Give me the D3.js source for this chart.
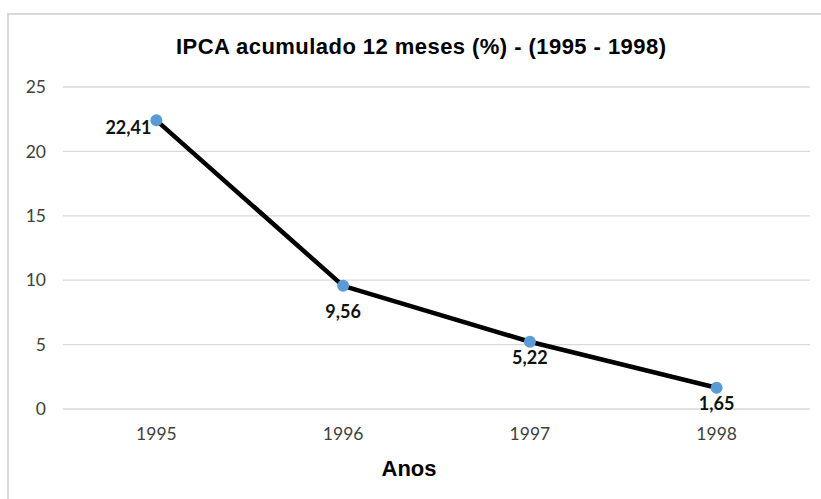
<!DOCTYPE html>
<html>
<head>
<meta charset="utf-8">
<script src="https://cdn.jsdelivr.net/npm/d3@7"></script>
<style>
    body { margin: 0; background: #fff; }
    svg { display: block; }
    .grid line { stroke: #d9d9d9; stroke-width: 1.3; }
    .axis text { font-family: Lato, "Open Sans", sans-serif; font-size: 17.5px; fill: #404040; }
    .title { font-family: "Liberation Sans", Arial, sans-serif; font-weight: bold; font-size: 22px; fill: #000; }
    .x.title { font-size: 22px; }
    .label { font-family: Lato, "Open Sans", sans-serif; font-weight: bold; font-size: 18px; fill: #111; }
</style>
</head>
<body>
<svg id="chart" width="821" height="499"></svg>
<script>
    // data
    let years = ['1995', '1996', '1997', '1998'];
    let ipca = [22.41, 9.56, 5.22, 1.65];
    let labels = ['22,41', '9,56', '5,22', '1,65'];
    let yTicks = [0, 5, 10, 15, 20, 25];

    let margin = {top: 87, right: 11, bottom: 90, left: 63};
    let width = 821 - margin.left - margin.right;
    let height = 499 - margin.top - margin.bottom;

    let svg = d3.select('#chart');

    // outer frame (only left and top show in the picture)
    svg.append('rect')
        .attr('x', 8).attr('y', 14)
        .attr('width', 830).attr('height', 500)
        .attr('fill', 'none')
        .attr('stroke', '#d9d9d9')
        .attr('stroke-width', 2);

    let chart = svg.append('g')
        .attr('transform', 'translate(' + margin.left + ',' + margin.top + ')');

    let xScale = d3.scaleBand().domain(years).range([0, width]).padding(0);
    let yScale = d3.scaleLinear().domain([0, 25]).range([height, 0]);

    chart.append('g').attr('class', 'grid')
        .selectAll('line').data(yTicks).enter()
        .append('line')
        .attr('x1', 0).attr('x2', width)
        .attr('y1', d => yScale(d)).attr('y2', d => yScale(d));

    let yAxis = chart.append('g').attr('class', 'y axis')
        .call(d3.axisLeft(yScale).tickValues(yTicks).tickSize(0).tickPadding(17));
    yAxis.select('.domain').remove();

    let xAxis = chart.append('g').attr('class', 'x axis')
        .attr('transform', 'translate(0,' + height + ')')
        .call(d3.axisBottom(xScale).tickSize(0).tickPadding(19));
    xAxis.select('.domain').remove();

    // title is wider in the original, spread it out a bit
    svg.append('text').attr('class', 'title')
        .attr('x', 421).attr('y', 54)
        .attr('text-anchor', 'middle')
        .attr('textLength', 490)
        .attr('lengthAdjust', 'spacing')
        .text('IPCA acumulado 12 meses (%) - (1995 - 1998)');

    svg.append('text').attr('class', 'title x')
        .attr('x', 409).attr('y', 476)
        .attr('text-anchor', 'middle')
        .text('Anos');

    let cx = d => xScale(d) + xScale.bandwidth() / 2;
    let points = years.map((y, i) => ({year: y, value: ipca[i], label: labels[i]}));

    let line = d3.line()
        .x(d => cx(d.year))
        .y(d => yScale(d.value));

    chart.append('path')
        .datum(points)
        .attr('d', line)
        .attr('fill', 'none')
        .attr('stroke', '#000')
        .attr('stroke-width', 4.5)
        .attr('stroke-linejoin', 'round');

    chart.selectAll('.dot').data(points).enter()
        .append('circle')
        .attr('class', 'dot')
        .attr('r', 6)
        .attr('cx', d => cx(d.year))
        .attr('cy', d => yScale(d.value))
        .attr('fill', '#5b9bd5');

    // first label sits left of its point, the others below
    chart.selectAll('.label').data(points).enter()
        .append('text')
        .attr('class', 'label')
        .attr('text-anchor', (d, i) => i === 0 ? 'end' : 'middle')
        .attr('x', (d, i) => i === 0 ? cx(d.year) - 5 : cx(d.year))
        .attr('y', (d, i) => yScale(d.value) + (i === 0 ? 14 : i === 1 ? 32 : 22))
        .text(d => d.label);
</script>
</body>
</html>
